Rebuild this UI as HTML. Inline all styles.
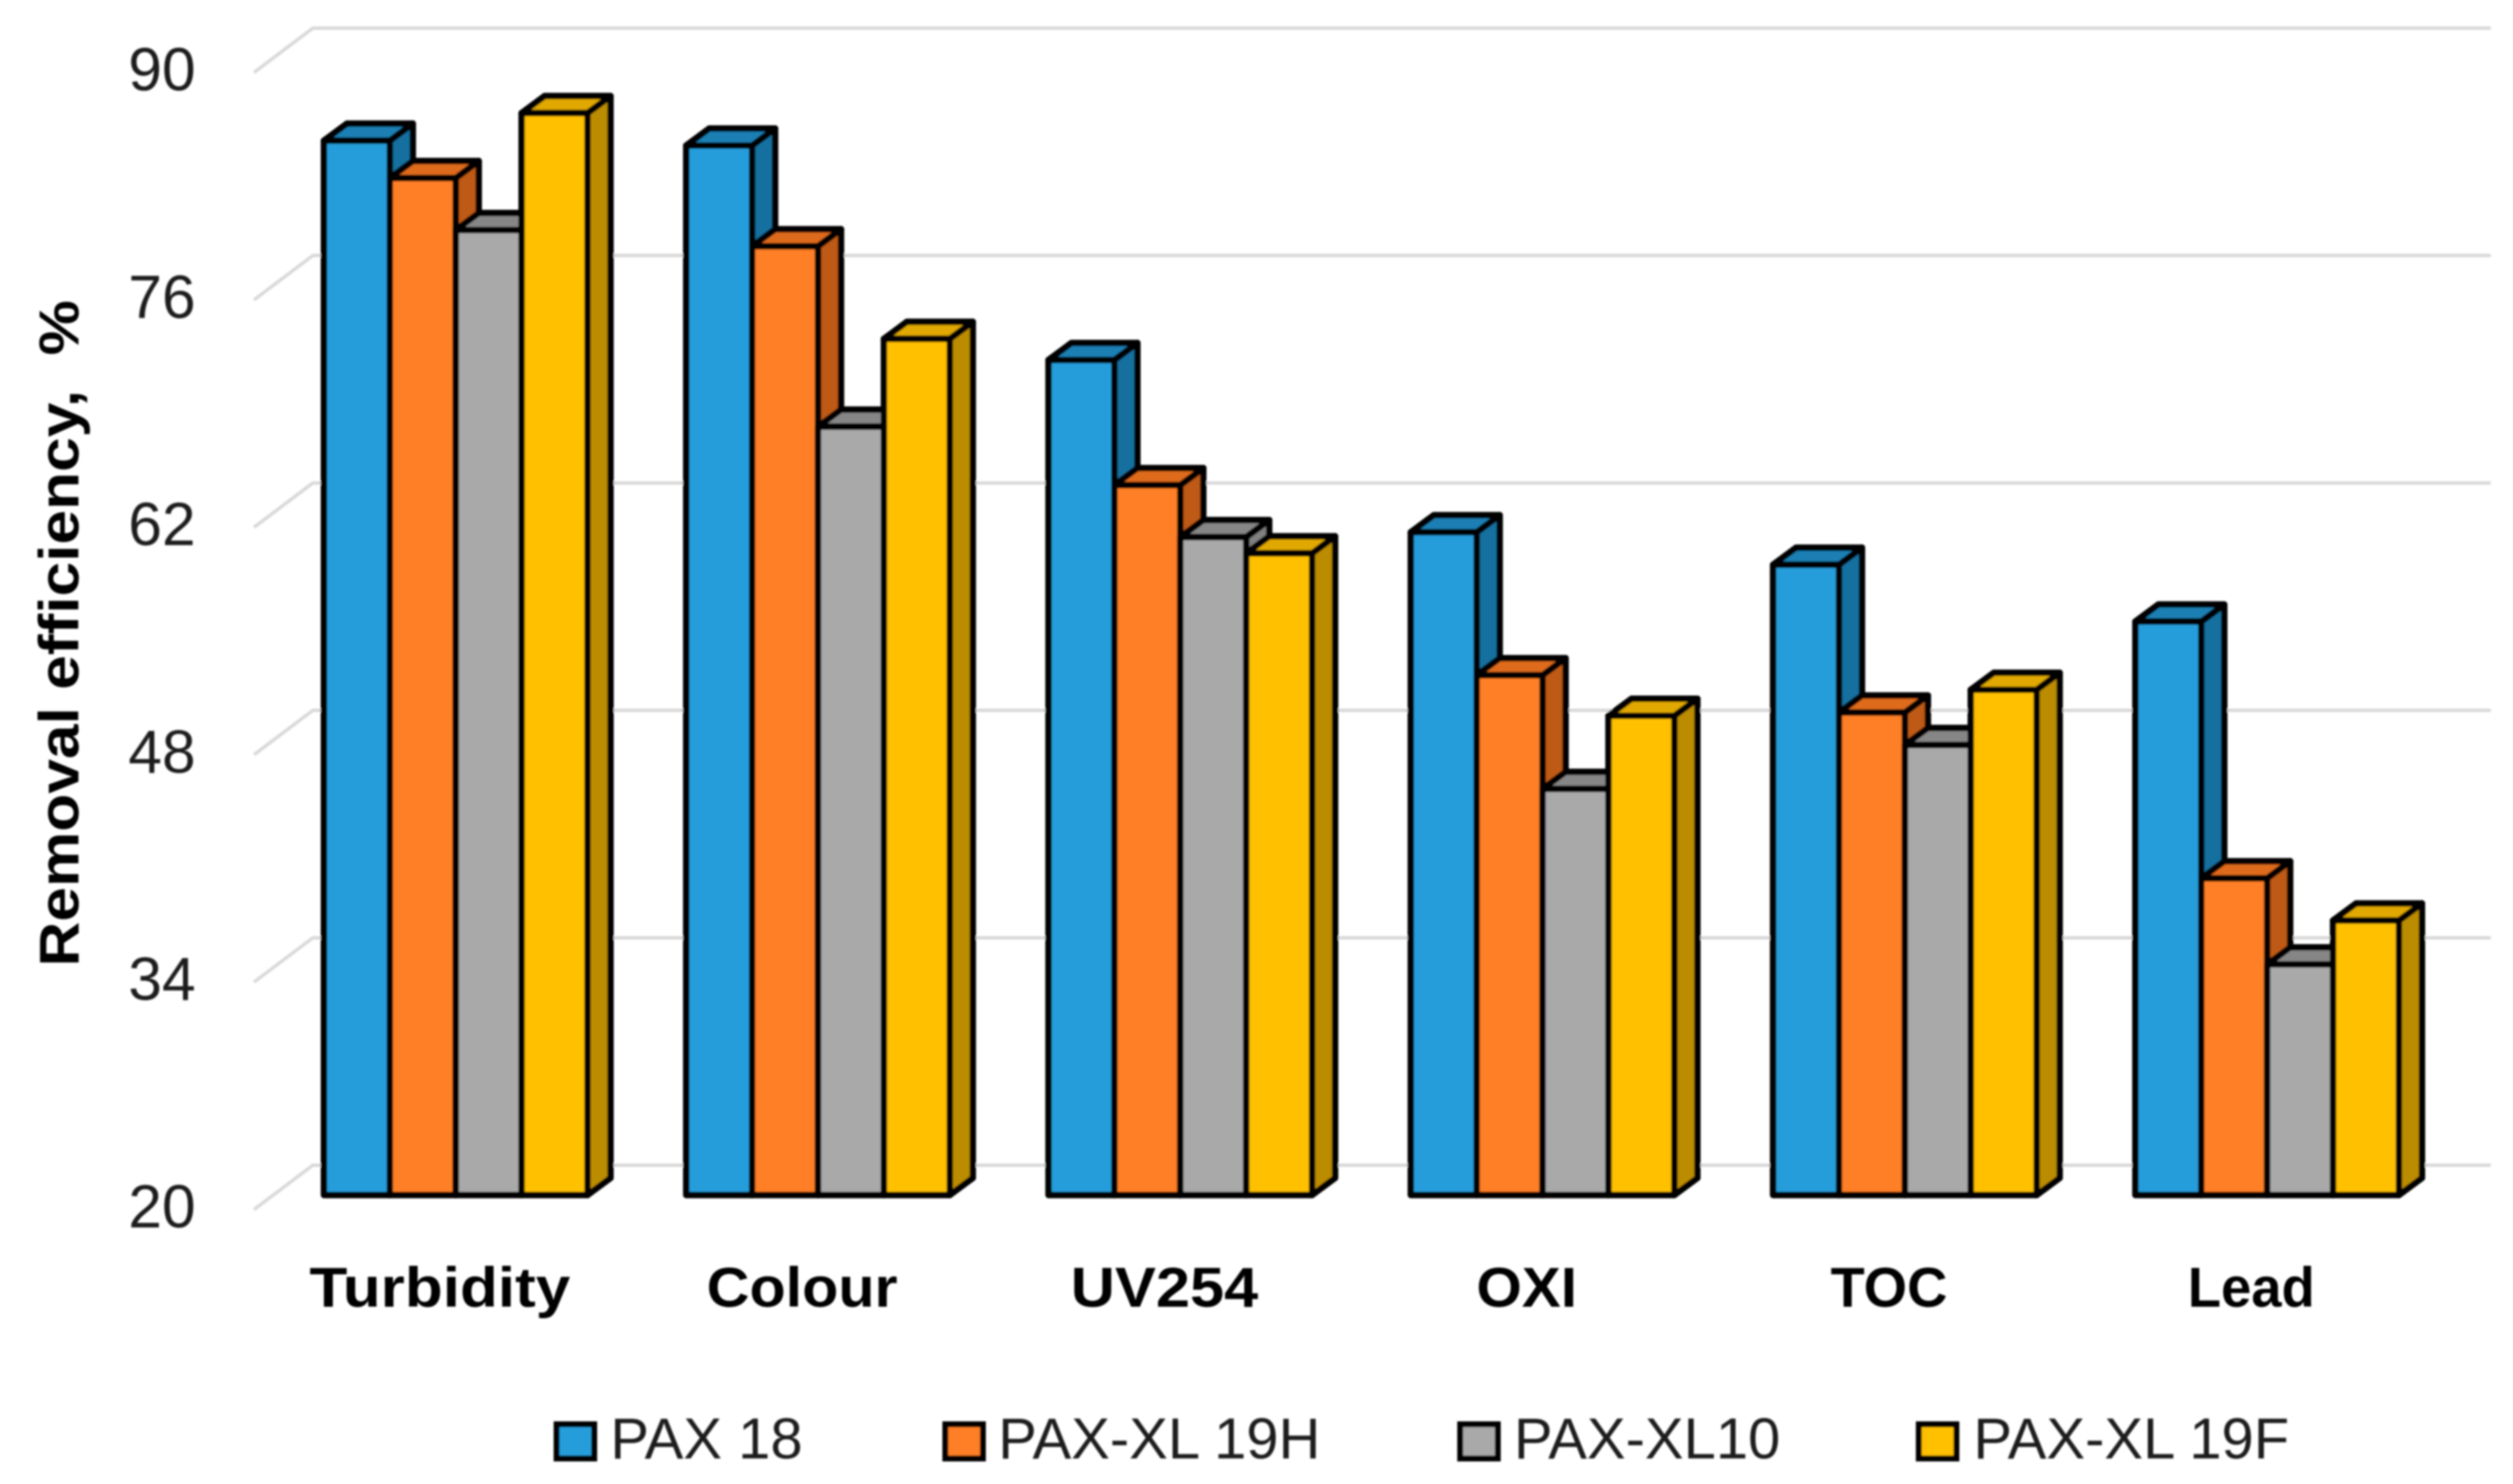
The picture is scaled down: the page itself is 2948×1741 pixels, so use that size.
<!DOCTYPE html>
<html lang="en">
<head>
<meta charset="utf-8">
<title>Removal efficiency chart</title>
<style>
html,body{margin:0;padding:0;background:#fff;width:2948px;height:1741px;overflow:hidden}
svg{display:block}
text{font-family:"Liberation Sans",sans-serif;fill:#1c1c1c}
</style>
</head>
<body>
<svg id="chart" xmlns="http://www.w3.org/2000/svg" width="2948" height="1741" viewBox="0 0 2948 1741">
<defs><filter id="soft" x="0" y="0" width="2948" height="1741" filterUnits="userSpaceOnUse"><feGaussianBlur stdDeviation="1"/></filter></defs>
<rect width="2948" height="1741" fill="#fff"/>
<g id="root" filter="url(#soft)"></g>
</svg>
<script>
const categories = ["Turbidity", "Colour", "UV254", "OXI", "TOC", "Lead"];
const seriesNames = ["PAX 18", "PAX-XL 19H", "PAX-XL10", "PAX-XL 19F"];
const pax18 = [84.9, 84.6, 71.4, 60.8, 58.8, 55.3];
const paxXl19H = [82.6, 78.4, 63.7, 52.0, 49.7, 39.5];
const paxXl10 = [79.4, 67.3, 60.5, 45.0, 47.7, 34.2];
const paxXl19F = [86.6, 72.7, 59.5, 49.5, 51.1, 36.9];
const tickLabels = [90, 76, 62, 48, 34, 20];
const axisTitle = "Removal efficiency,  %";

const allSeries = [pax18, paxXl19H, paxXl10, paxXl19F];
const palette = [
  {front:"#259DDB", top:"#1E7FB4", side:"#17709F", name:"pax-18"},
  {front:"#FF7F27", top:"#DE6A1C", side:"#BE5A14", name:"pax-xl-19h"},
  {front:"#A9A9A9", top:"#868686", side:"#808080", name:"pax-xl10"},
  {front:"#FFC000", top:"#E0A800", side:"#BC8C00", name:"pax-xl-19f"}
];
const labelFit = {Turbidity:306, Colour:224, UV254:220, OXI:118, TOC:137, Lead:149};

const root = document.getElementById("root");
const NS = "http://www.w3.org/2000/svg";
const axisMin = 20, axisMax = 90, unit = 19.06;
const baseFront = 1402, wallBase = 1367, wallLeft = 367, wallRight = 2922, tipDX = 69, tipDY = 51;
const groupLeft = 380, groupStep = 425, barPitch = 77.3, depthX = 27, depthY = 20;

function yFront(v){ return baseFront - (v - axisMin) * unit; }
function yWall(v){ return wallBase - (v - axisMin) * (wallBase - 33) / (axisMax - axisMin); }
function xBar(c, s){ return groupLeft + c * groupStep + s * barPitch; }
function mk(tag, attrs, parent){
  const el = document.createElementNS(NS, tag);
  for (const k in attrs) el.setAttribute(k, attrs[k]);
  (parent || root).appendChild(el);
  return el;
}

// gridlines and tick labels
tickLabels.forEach(function(t){
  const y = yWall(t);
  const grid = mk("polyline", {points:(wallLeft-tipDX)+","+(y+tipDY+1)+" "+wallLeft+","+y+" "+wallRight+","+y, fill:"none", stroke:"#d9d9d9", "stroke-width":4});
  
  
  const label = mk("text", {x:190, y:y+tipDY+22, "text-anchor":"middle", "font-size":71});
  label.textContent = t;
  
  
});

// bars
categories.forEach(function(cat, c){
  allSeries.forEach(function(values, s){
    const col = palette[s];
    const x0 = xBar(c, s), x1 = xBar(c, s + 1), yt = yFront(values[c]), yb = baseFront;
    const g = mk("g", {"stroke":"#000", "stroke-width":7.5, "stroke-linejoin":"round"});
    
    
    mk("polygon", {points:x1+","+yt+" "+(x1+depthX)+","+(yt-depthY)+" "+(x1+depthX)+","+(yb-depthY)+" "+x1+","+yb, fill:col.side}, g);
    mk("polygon", {points:x0+","+yt+" "+(x0+depthX)+","+(yt-depthY)+" "+(x1+depthX)+","+(yt-depthY)+" "+x1+","+yt, fill:col.top}, g);
    mk("rect", {x:x0, y:yt, width:x1-x0, height:yb-yt, fill:col.front}, g);
  });
  const center = groupLeft + c * groupStep + 155 - 19;
  const lab = mk("text", {x:center, y:1533, "text-anchor":"middle", "font-size":66, "font-weight":"700", textLength:labelFit[cat], lengthAdjust:"spacingAndGlyphs", style:"fill:#000"});
  lab.textContent = cat;
  
  
});

// axis title
const title = mk("text", {transform:"translate(92,743) rotate(-90)", "text-anchor":"middle", "font-size":66, "font-weight":"700", textLength:782, lengthAdjust:"spacingAndGlyphs", "xml:space":"preserve", style:"fill:#000;white-space:pre"});
title.textContent = axisTitle;



// legend
const legendSwatchX = [653, 1109, 1713, 2251];
const legendTextX = [716, 1171, 1776, 2315];
seriesNames.forEach(function(name, s){
  const g = mk("g", {});
  
  
  mk("rect", {x:legendSwatchX[s], y:1671, width:44, height:40, fill:palette[s].front, stroke:"#000", "stroke-width":7}, g);
  const t = mk("text", {x:legendTextX[s], y:1711, "font-size":68}, g);
  t.textContent = name;
});
</script>
</body>
</html>
